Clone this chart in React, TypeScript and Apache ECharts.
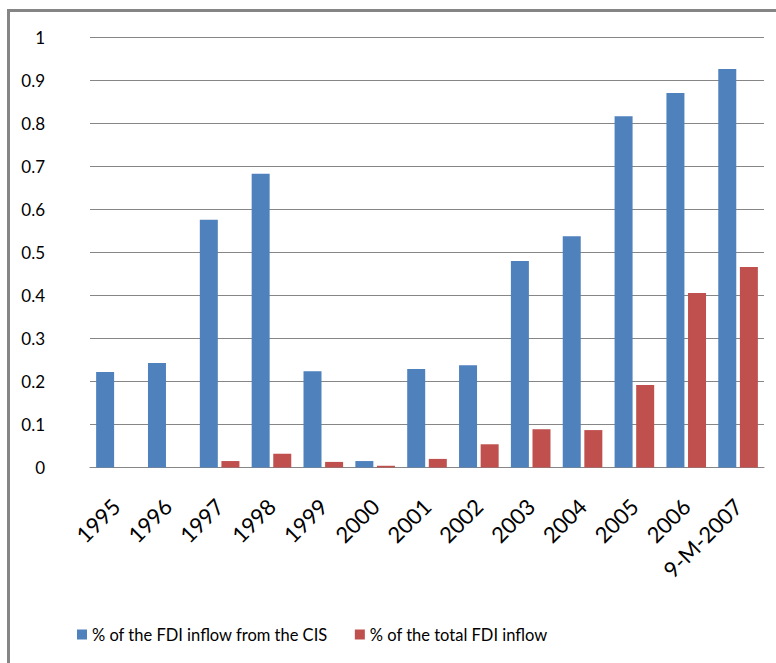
import React, { useEffect, useRef } from "react";
import * as echarts from "echarts";

const categories = ["1995", "1996", "1997", "1998", "1999", "2000", "2001", "2002", "2003", "2004", "2005", "2006", "9-M-2007"];
const cisShare = [0.222, 0.243, 0.576, 0.683, 0.224, 0.015, 0.229, 0.238, 0.48, 0.538, 0.817, 0.871, 0.927];
const totalShare = [0, 0, 0.015, 0.032, 0.013, 0.004, 0.02, 0.054, 0.089, 0.087, 0.192, 0.406, 0.466];
const seriesNames = ["% of the FDI inflow from the CIS", "% of the total FDI inflow"];

const FONT = "Lato, 'Open Sans', sans-serif";

export default function App() {
  const ref = useRef<HTMLDivElement>(null);
  useEffect(() => {
    if (!ref.current) return;
    const chart = echarts.init(ref.current, undefined, { renderer: "svg" });
    chart.setOption({
      animation: false,
      backgroundColor: "#ffffff",
      textStyle: { fontFamily: FONT },
      graphic: [
        { type: "line", shape: { x1: 7, y1: 10.5, x2: 776, y2: 10.5 }, style: { stroke: "#858585", lineWidth: 3 } },
        { type: "line", shape: { x1: 8.5, y1: 9, x2: 8.5, y2: 663 }, style: { stroke: "#858585", lineWidth: 3 } },
      ],
      grid: { left: 90, right: 12, top: 37.5, bottom: 195.5, containLabel: false },
      legend: {
        left: 72,
        top: 621,
        itemWidth: 10,
        itemHeight: 10,
        itemGap: 27,
        icon: "rect",
        textStyle: { fontFamily: FONT, fontSize: 16.5, color: "#000" },
        data: seriesNames,
      },
      xAxis: {
        type: "category",
        data: categories,
        axisLine: { lineStyle: { color: "#868686", width: 1 } },
        axisTick: { show: false },
        axisLabel: { rotate: 45, fontSize: 22, color: "#000", fontFamily: FONT, margin: 35, interval: 0 },
      },
      yAxis: {
        type: "value",
        min: 0,
        max: 1,
        interval: 0.1,
        axisLine: { show: false },
        axisTick: { show: false },
        splitLine: { lineStyle: { color: "#868686", width: 1 } },
        axisLabel: {
          fontSize: 17,
          color: "#000",
          fontFamily: FONT,
          margin: 45,
          formatter: (v: number) => String(Math.round(v * 10) / 10),
        },
      },
      series: [
        { name: seriesNames[0], type: "bar", data: cisShare, barWidth: 18, barGap: "20%", itemStyle: { color: "#4F81BD" } },
        { name: seriesNames[1], type: "bar", data: totalShare, barWidth: 18, itemStyle: { color: "#C0504D" } },
      ],
    });
    return () => chart.dispose();
  }, []);
  return <div ref={ref} style={{ position: "fixed", left: 0, top: 0, width: 776, height: 663 }} />;
}
